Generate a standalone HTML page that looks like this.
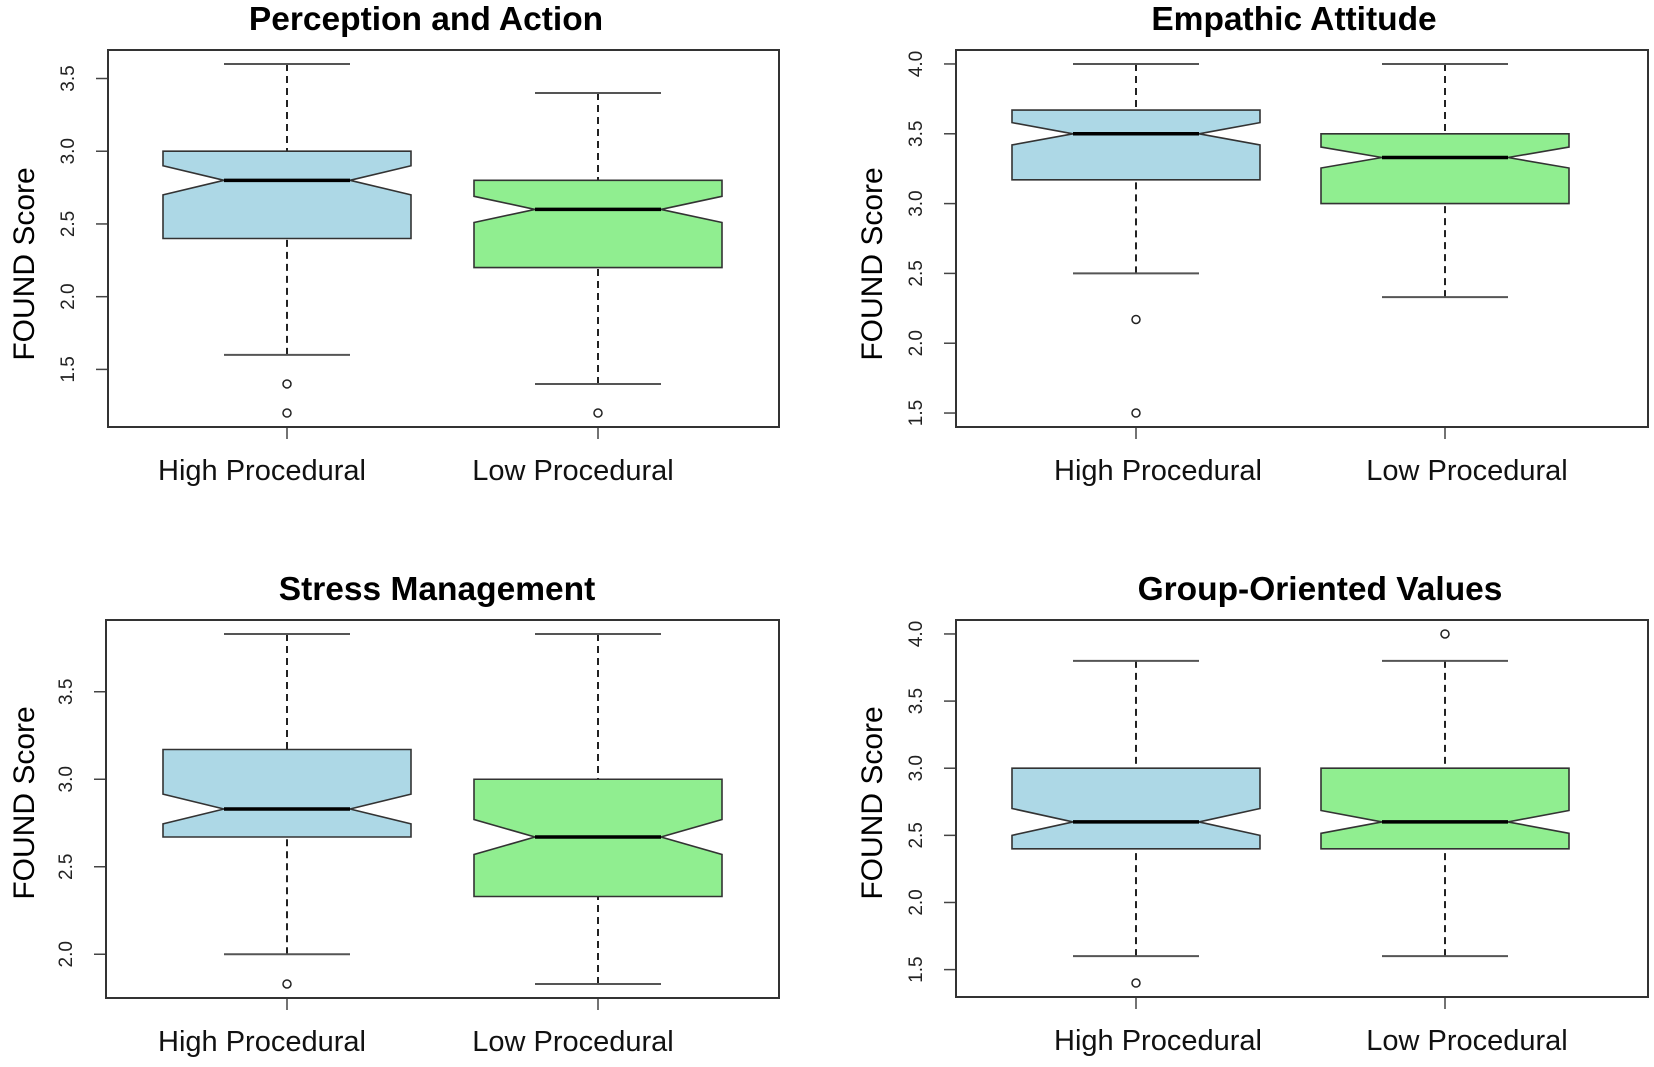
<!DOCTYPE html>
<html><head><meta charset="utf-8"><style>
html,body{margin:0;padding:0;background:#fff;}
svg{display:block;font-family:"Liberation Sans",Arial,sans-serif;}
</style></head><body>
<svg id="chart" width="1654" height="1067" viewBox="0 0 1654 1067" xmlns="http://www.w3.org/2000/svg"></svg>
<script>
// ---- data ----
const panelTitles = ["Perception and Action","Empathic Attitude","Stress Management","Group-Oriented Values"];
const categories = ["High Procedural","Low Procedural"];
const boxColors = ["#add8e6","#90ee90"];
// [whiskerLow, q1, median, q3, whiskerHigh] per group
const paStats = [[1.6,2.4,2.8,3.0,3.6],[1.4,2.2,2.6,2.8,3.4]];
const eaStats = [[2.5,3.17,3.5,3.67,4.0],[2.33,3.0,3.33,3.5,4.0]];
const smStats = [[2.0,2.67,2.83,3.17,3.83],[1.83,2.33,2.67,3.0,3.83]];
const gvStats = [[1.6,2.4,2.6,3.0,3.8],[1.6,2.4,2.6,3.0,3.8]];
// notch half-heights
const paNotch = [0.1,0.09];
const eaNotch = [0.08,0.075];
const smNotch = [0.085,0.1];
const gvNotch = [0.1,0.085];
const paOutliers = [[1.4,1.2],[1.2]];
const eaOutliers = [[2.17,1.5],[]];
const smOutliers = [[1.83],[]];
const gvOutliers = [[1.4],[4.0]];
const paTicks = [1.5,2.0,2.5,3.0,3.5];
const eaTicks = [1.5,2.0,2.5,3.0,3.5,4.0];
const smTicks = [2.0,2.5,3.0,3.5];
const gvTicks = [1.5,2.0,2.5,3.0,3.5,4.0];

const allStats=[paStats,eaStats,smStats,gvStats];
const allNotch=[paNotch,eaNotch,smNotch,gvNotch];
const allOut=[paOutliers,eaOutliers,smOutliers,gvOutliers];
const allTicks=[paTicks,eaTicks,smTicks,gvTicks];
const layout=[
 {l:108,r:779,t:50,b:427,c:[287,598],tx:426,yl:24,ylc:264,lo:-25},
 {l:956,r:1648,t:50,b:427,c:[1136,1445],tx:1294,yl:872,ylc:264,lo:22},
 {l:106,r:779,t:620,b:998,c:[287,598],tx:437,yl:24,ylc:803,lo:-25},
 {l:956,r:1648,t:620,b:997,c:[1136,1445],tx:1320,yl:872,ylc:803,lo:22}];

const NS="http://www.w3.org/2000/svg";
const svg=document.getElementById('chart');
function mk(tag,attrs,parent){const e=document.createElementNS(NS,tag);for(const k in attrs)e.setAttribute(k,attrs[k]);(parent||svg).appendChild(e);return e;}

for(let p=0;p<4;p++){
  const L=layout[p],stats=allStats[p],outs=allOut[p];
  const g=mk('g',{});
  
  
  let mn=Infinity,mx=-Infinity;
  stats.forEach(s=>{mn=Math.min(mn,s[0]);mx=Math.max(mx,s[4]);});
  outs.forEach(o=>o.forEach(v=>{mn=Math.min(mn,v);mx=Math.max(mx,v);}));
  const pad=(mx-mn)*0.04,lo=mn-pad,hi=mx+pad;
  const y=v=>L.b-(v-lo)/(hi-lo)*(L.b-L.t);
  const w=L.r-L.l;
  const x=i=>L.c[i];
  const bw=124, cw=63;
  const t=mk('text',{x:L.tx,y:L.t-20,'text-anchor':'middle','font-size':33.5,'font-weight':'bold',fill:'#000'},g);
  t.textContent=panelTitles[p];
  
  
  const yl=mk('text',{transform:`translate(${L.yl+10},${L.ylc}) rotate(-90)`,'text-anchor':'middle','font-size':30,fill:'#000'},g);
  yl.textContent='FOUND Score';
  
  
  allTicks[p].forEach(v=>{
    const tk=mk('line',{x1:L.l-12,x2:L.l,y1:y(v),y2:y(v),stroke:'#444','stroke-width':1.5},g);
    
    
    const tl=mk('text',{transform:`translate(${L.l-34},${y(v)}) rotate(-90)`,'text-anchor':'middle','font-size':19,fill:'#222'},g);
    tl.textContent=v.toFixed(1);
    
    
  });
  stats.forEach((s,i)=>{
    const c=x(i),n=allNotch[p][i];
    const wl=mk('line',{x1:c,x2:c,y1:y(s[0]),y2:y(s[1]),stroke:'#222','stroke-width':2,'stroke-dasharray':'7,5'},g);
    
    
    const wu=mk('line',{x1:c,x2:c,y1:y(s[4]),y2:y(s[3]),stroke:'#222','stroke-width':2,'stroke-dasharray':'7,5'},g);
    
    
    [s[0],s[4]].forEach(v=>{
      const cap=mk('line',{x1:c-cw,x2:c+cw,y1:y(v),y2:y(v),stroke:'#555','stroke-width':2},g);
      
      
    });
    const pts=[[c-bw,y(s[3])],[c+bw,y(s[3])],[c+bw,y(s[2]+n)],[c+cw,y(s[2])],[c+bw,y(s[2]-n)],[c+bw,y(s[1])],[c-bw,y(s[1])],[c-bw,y(s[2]-n)],[c-cw,y(s[2])],[c-bw,y(s[2]+n)]];
    const bx=mk('polygon',{points:pts.map(q=>q.join(',')).join(' '),fill:boxColors[i],stroke:'#333','stroke-width':1.6},g);
    
    
    const md=mk('line',{x1:c-cw,x2:c+cw,y1:y(s[2]),y2:y(s[2]),stroke:'#000','stroke-width':3.5},g);
    
    
    outs[i].forEach(v=>{
      const o=mk('circle',{cx:c,cy:y(v),r:4,fill:'none',stroke:'#222','stroke-width':1.5},g);
      
      
    });
    const xt=mk('line',{x1:c,x2:c,y1:L.b,y2:L.b+12,stroke:'#444','stroke-width':1.5},g);
    
    
    const xl=mk('text',{x:c+L.lo,y:L.b+53,'text-anchor':'middle','font-size':29,fill:'#111'},g);
    xl.textContent=categories[i];
    
    
  });
  const fr=mk('rect',{x:L.l,y:L.t,width:w,height:L.b-L.t,fill:'none',stroke:'#333','stroke-width':2},g);
  
  
}
</script>
</body></html>
